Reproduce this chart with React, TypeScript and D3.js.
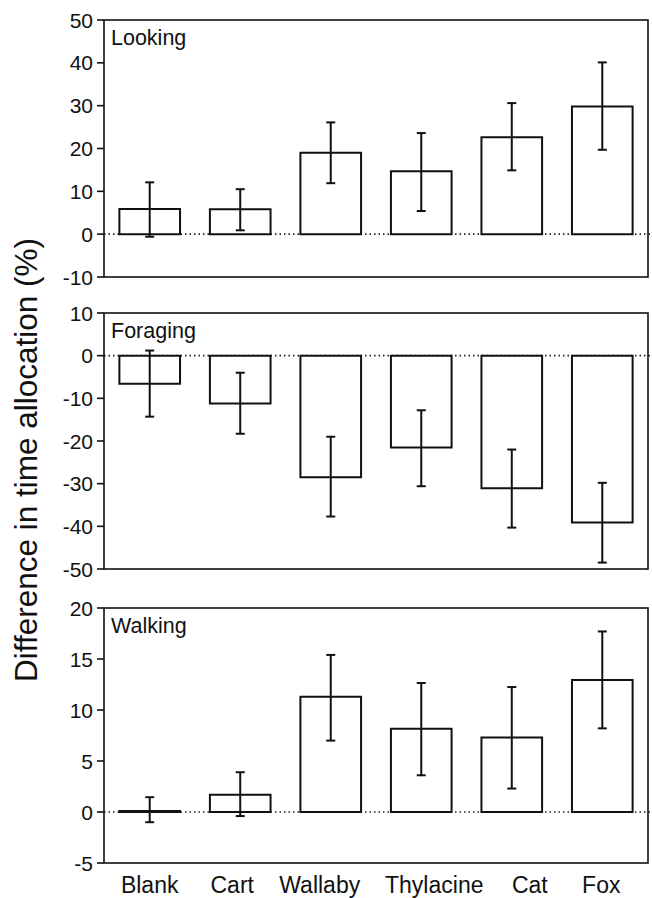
import React from "react";
import * as d3 from "d3";

const categories = ["Blank", "Cart", "Wallaby", "Thylacine", "Cat", "Fox"];

const lookingMean = [5.9, 5.8, 19.0, 14.7, 22.6, 29.8];
const lookingHigh = [12.1, 10.5, 26.1, 23.6, 30.6, 40.1];
const lookingLow = [-0.6, 0.9, 11.9, 5.4, 14.9, 19.7];

const foragingMean = [-6.6, -11.2, -28.5, -21.5, -31.1, -39.1];
const foragingHigh = [1.2, -4.0, -19.0, -12.8, -22.0, -29.8];
const foragingLow = [-14.3, -18.3, -37.7, -30.6, -40.3, -48.5];

const walkingMean = [0.1, 1.7, 11.3, 8.15, 7.3, 12.95];
const walkingHigh = [1.45, 3.9, 15.4, 12.65, 12.25, 17.7];
const walkingLow = [-1.0, -0.4, 7.0, 3.6, 2.3, 8.2];

const lookingTicks = [-10, 0, 10, 20, 30, 40, 50];
const foragingTicks = [-50, -40, -30, -20, -10, 0, 10];
const walkingTicks = [-5, 0, 5, 10, 15, 20];

// small horizontal nudges of the category labels (layout only)
const labelNudge = [0, -8, -11, 13, 18, -1];

const FONT = "'Liberation Sans', Arial, Helvetica, sans-serif";
const LEFT = 104;
const RIGHT = 648;

const x = d3
  .scaleBand<string>()
  .domain(categories)
  .range([LEFT, RIGHT])
  .paddingInner(0.33)
  .paddingOuter(0.17);

type PanelProps = {
  title: string;
  mean: number[];
  high: number[];
  low: number[];
  ticks: number[];
  top: number;
  bottom: number;
};

function Panel({ title, mean, high, low, ticks, top, bottom }: PanelProps) {
  const y = d3
    .scaleLinear()
    .domain([ticks[0], ticks[ticks.length - 1]])
    .range([bottom, top]);
  const y0 = y(0);
  const bw = x.bandwidth();
  return (
    <g>
      <line
        x1={LEFT}
        x2={RIGHT + 4}
        y1={y0}
        y2={y0}
        stroke="#222"
        strokeWidth={1.6}
        strokeDasharray="1.5,3"
      />
      {categories.map((c, i) => {
        const x0 = x(c)!;
        const yv = y(mean[i]);
        const d = `M${x0},${y0}H${x0 + bw}V${yv}H${x0}Z`;
        const cx = x0 + bw / 2;
        return (
          <g key={c}>
            <path d={d} fill="#fff" stroke="#111" strokeWidth={2} />
            <line x1={cx} x2={cx} y1={y(high[i])} y2={y(low[i])} stroke="#111" strokeWidth={2} />
            <line x1={cx - 4.5} x2={cx + 4.5} y1={y(high[i])} y2={y(high[i])} stroke="#111" strokeWidth={2} />
            <line x1={cx - 4.5} x2={cx + 4.5} y1={y(low[i])} y2={y(low[i])} stroke="#111" strokeWidth={2} />
          </g>
        );
      })}
      <rect
        x={LEFT}
        y={top}
        width={RIGHT - LEFT}
        height={bottom - top}
        fill="none"
        stroke="#111"
        strokeWidth={1.6}
      />
      {ticks.map((t) => (
        <g key={t}>
          <line x1={LEFT - 7} x2={LEFT} y1={y(t)} y2={y(t)} stroke="#111" strokeWidth={1.6} />
          <text
            x={LEFT - 11}
            y={y(t)}
            dy="0.36em"
            textAnchor="end"
            fontSize={21}
            fontFamily={FONT}
            fill="#111"
          >
            {t}
          </text>
        </g>
      ))}
      <text x={LEFT + 7} y={top + 25} fontSize={21.5} fontFamily={FONT} fill="#111">
        {title}
      </text>
    </g>
  );
}

export default function App() {
  return (
    <svg
      width={652}
      height={898}
      style={{ position: "absolute", left: 0, top: 0, background: "#fff" }}
    >
      <rect x={0} y={0} width={652} height={898} fill="#fff" />
      <Panel title="Looking" mean={lookingMean} high={lookingHigh} low={lookingLow} ticks={lookingTicks} top={20} bottom={277} />
      <Panel title="Foraging" mean={foragingMean} high={foragingHigh} low={foragingLow} ticks={foragingTicks} top={313} bottom={569} />
      <Panel title="Walking" mean={walkingMean} high={walkingHigh} low={walkingLow} ticks={walkingTicks} top={608} bottom={863} />
      {categories.map((c, i) => (
        <text
          key={c}
          x={x(c)! + x.bandwidth() / 2 + labelNudge[i]}
          y={893}
          textAnchor="middle"
          fontSize={23}
          fontFamily={FONT}
          fill="#111"
        >
          {c}
        </text>
      ))}
      <text
        transform="translate(37,460) rotate(-90)"
        textAnchor="middle"
        fontSize={31.5}
        fontFamily={FONT}
        fill="#111"
      >
        Difference in time allocation (%)
      </text>
    </svg>
  );
}
